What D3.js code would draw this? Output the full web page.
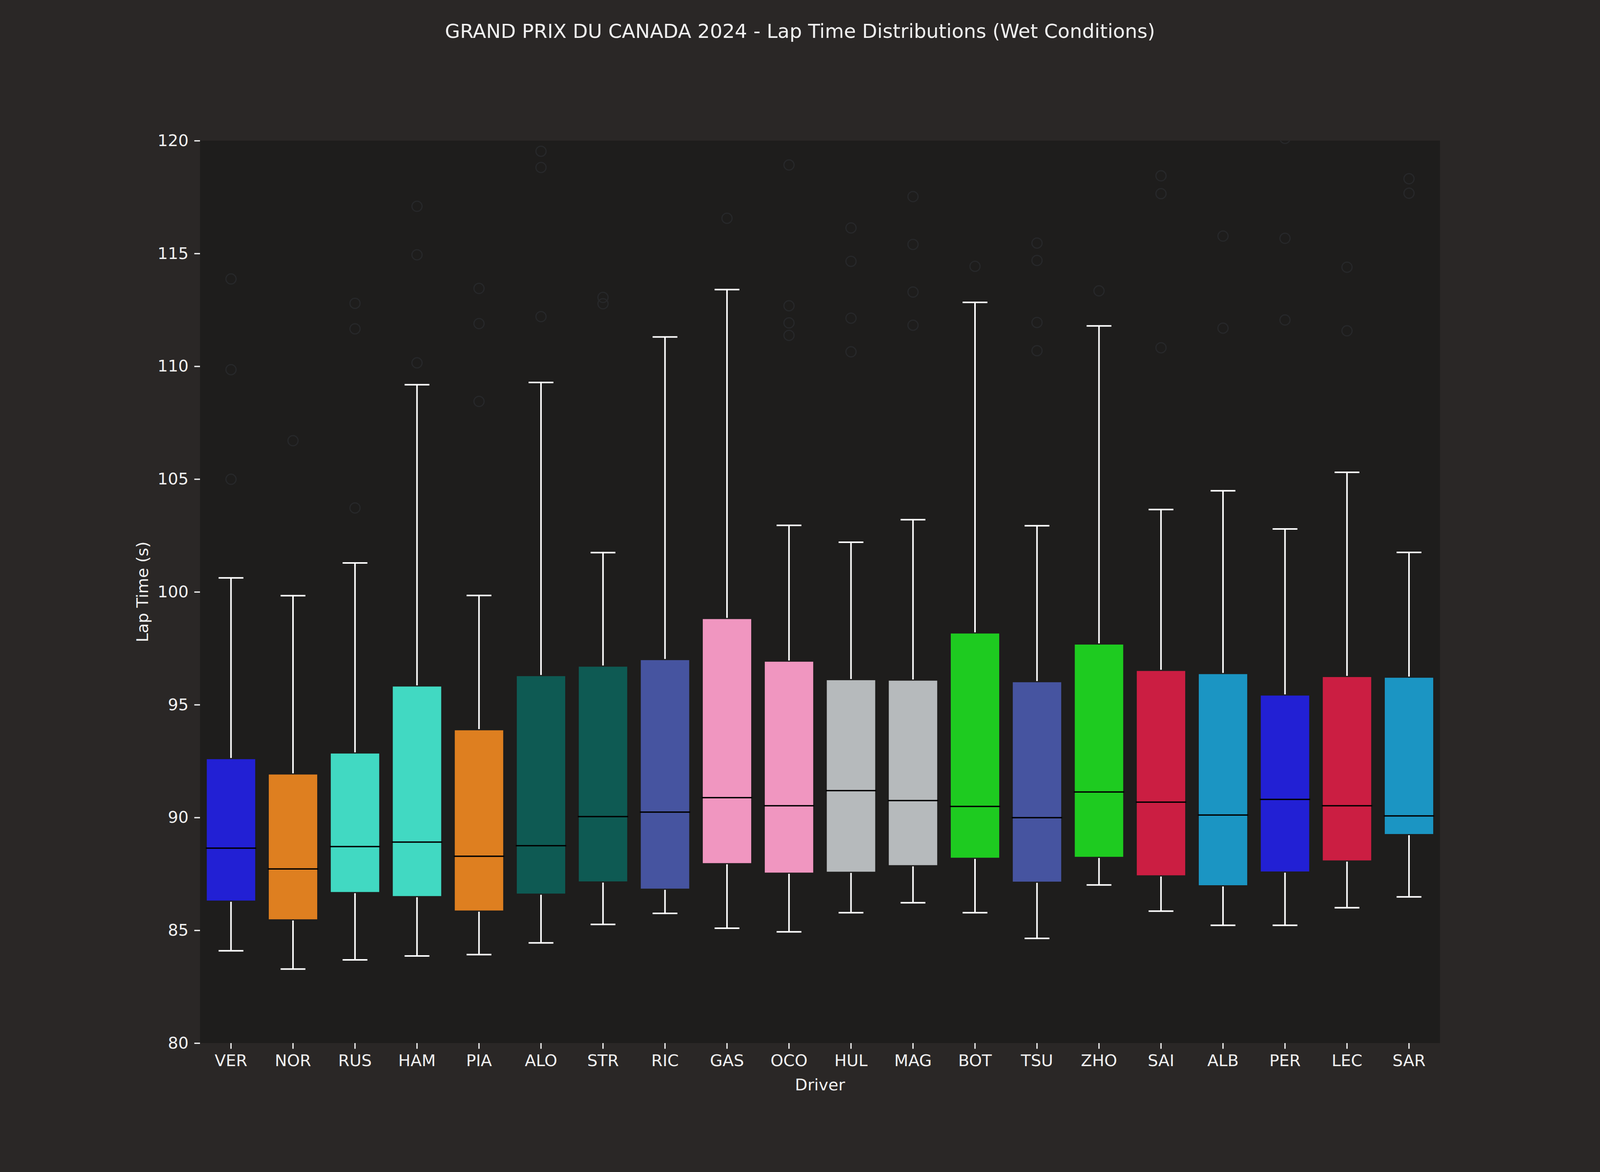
<!DOCTYPE html>
<html>
<head>
<meta charset="utf-8">
<script src="https://cdn.jsdelivr.net/npm/d3@7"></script>
<style>
  html, body { margin: 0; padding: 0; overflow: hidden; background: #2a2726; }
  svg { display: block; }
  text { font-family: "DejaVu Sans", sans-serif; }
</style>
</head>
<body>
<script>
const drivers = ["VER", "NOR", "RUS", "HAM", "PIA", "ALO", "STR", "RIC", "GAS", "OCO",
                 "HUL", "MAG", "BOT", "TSU", "ZHO", "SAI", "ALB", "PER", "LEC", "SAR"];
const colors = ["#2220d4", "#de7f20", "#41d9c2", "#41d9c2", "#de7f20", "#0e5a53", "#0e5a53", "#4654a0", "#f096c0", "#f096c0",
                "#b6babc", "#b6babc", "#1ecb20", "#4654a0", "#1ecb20", "#cb1e42", "#1b95c3", "#2220d4", "#cb1e42", "#1b95c3"];
const whiskerLow = [84.09, 83.28, 83.69, 83.86, 83.92, 84.44, 85.26, 85.75, 85.09, 84.93,
                    85.78, 86.22, 85.78, 84.64, 87.01, 85.85, 85.22, 85.22, 86.00, 86.48];
const q1 = [86.29, 85.46, 86.67, 86.49, 85.85, 86.60, 87.14, 86.82, 87.95, 87.53,
            87.57, 87.86, 88.19, 87.13, 88.23, 87.41, 86.97, 87.58, 88.07, 89.24];
const medians = [88.64, 87.72, 88.71, 88.91, 88.28, 88.75, 90.04, 90.24, 90.88, 90.52,
                 91.19, 90.75, 90.49, 89.99, 91.13, 90.68, 90.11, 90.80, 90.52, 90.07];
const q3 = [92.61, 91.93, 92.86, 95.83, 93.89, 96.29, 96.71, 97.00, 98.82, 96.93,
            96.11, 96.09, 98.18, 96.02, 97.69, 96.52, 96.38, 95.43, 96.25, 96.22];
const whiskerHigh = [100.62, 99.83, 101.28, 109.18, 99.84, 109.28, 101.74, 111.30, 113.40, 102.95,
                     102.20, 103.20, 112.83, 102.93, 111.79, 103.65, 104.48, 102.79, 105.30, 101.75];
const outliers = [
  [113.87, 109.85, 104.99],
  [106.7],
  [112.79, 111.66, 103.72],
  [117.09, 114.94, 110.15],
  [113.45, 111.89, 108.44],
  [119.53, 118.81, 112.2],
  [113.05, 112.77],
  [],
  [116.56],
  [118.92, 112.68, 111.92, 111.37],
  [116.13, 114.65, 112.13, 110.64],
  [117.52, 115.40, 113.29, 111.82],
  [114.43],
  [115.46, 114.69, 111.94, 110.69],
  [113.34],
  [118.44, 117.65, 110.82],
  [115.77, 111.69],
  [120.1, 115.67, 112.05],
  [114.39, 111.57],
  [118.31, 117.67]
];
const yTicks = [80, 85, 90, 95, 100, 105, 110, 115, 120];

// figure fills the window; axes placed by fractions like the original figure
const W = window.innerWidth || 4500;
const H = window.innerHeight || 3000;
const s = H / 3000;
const m = {top: 0.12 * H, bottom: 0.11 * H, left: 0.125 * W, right: 0.1 * W};
const w = W - m.left - m.right;
const h = H - m.top - m.bottom;

const svg = d3.select("body")
    .append("svg")
    .attr("width", W)
    .attr("height", H);

svg.append("rect").attr("width", W).attr("height", H).attr("fill", "#2a2726");

svg.append("defs").append("clipPath").attr("id", "plot-clip")
    .append("rect").attr("width", w).attr("height", h);

const g = svg.append("g").attr("transform", `translate(${m.left}, ${m.top})`);

g.append("rect").attr("width", w).attr("height", h).attr("fill", "#1e1d1c");

const x = d3.scaleBand().domain(drivers).range([0, w]);
const y = d3.scaleLinear().domain([80, 120]).range([h, 0]);

const rows = drivers.map((d, i) => ({
  driver: d, color: colors[i], lo: whiskerLow[i], q1: q1[i], med: medians[i],
  q3: q3[i], hi: whiskerHigh[i], fliers: outliers[i]
}));

const boxW = x.bandwidth() * 0.8;
const capW = boxW / 2;
const lw = 4 * s;

const plot = g.append("g").attr("clip-path", "url(#plot-clip)");

const box = plot.selectAll("g.box")
    .data(rows)
    .enter()
    .append("g")
    .attr("class", "box")
    .attr("transform", d => `translate(${x(d.driver) + x.bandwidth() / 2}, 0)`);

// whiskers
box.append("line")
    .attr("y1", d => y(d.q3)).attr("y2", d => y(d.hi))
    .attr("stroke", "#ffffff").attr("stroke-width", lw);
box.append("line")
    .attr("y1", d => y(d.q1)).attr("y2", d => y(d.lo))
    .attr("stroke", "#ffffff").attr("stroke-width", lw);

// caps
box.append("line")
    .attr("x1", -capW / 2).attr("x2", capW / 2)
    .attr("y1", d => y(d.hi)).attr("y2", d => y(d.hi))
    .attr("stroke", "#ffffff").attr("stroke-width", lw);
box.append("line")
    .attr("x1", -capW / 2).attr("x2", capW / 2)
    .attr("y1", d => y(d.lo)).attr("y2", d => y(d.lo))
    .attr("stroke", "#ffffff").attr("stroke-width", lw);

// boxes
box.append("rect")
    .attr("x", -boxW / 2)
    .attr("width", boxW)
    .attr("y", d => y(d.q3))
    .attr("height", d => y(d.q1) - y(d.q3))
    .attr("fill", d => d.color)
    .attr("stroke", "#1e1d1c")
    .attr("stroke-width", 3 * s);

// medians
box.append("line")
    .attr("x1", -boxW / 2 - 1).attr("x2", boxW / 2 + 1)
    .attr("y1", d => y(d.med)).attr("y2", d => y(d.med))
    .attr("stroke", "#000000").attr("stroke-width", 3.5 * s);

// outliers, barely visible in the original
box.selectAll("circle")
    .data(d => d.fliers)
    .enter()
    .append("circle")
    .attr("cy", v => y(v))
    .attr("r", 13 * s)
    .attr("fill", "none")
    .attr("stroke", "#27282a")
    .attr("stroke-width", 3 * s);

// axes
const tick = 14.6 * s;
const fs = 41.7 * s;
const xAxis = g.append("g")
    .attr("transform", `translate(0, ${h})`)
    .call(d3.axisBottom(x).tickSize(tick).tickPadding(tick));
const yAxis = g.append("g")
    .call(d3.axisLeft(y).tickValues(yTicks).tickSize(tick).tickPadding(tick));

[xAxis, yAxis].forEach(a => {
  a.select(".domain").remove();
  a.selectAll(".tick line").attr("stroke", "#f0f0f0").attr("stroke-width", 3.3 * s);
  a.selectAll(".tick text")
      .attr("fill", "#f0f0f0")
      .attr("font-size", fs)
      .attr("font-family", "DejaVu Sans, sans-serif");
});

// labels
svg.append("text")
    .attr("x", m.left + w / 2).attr("y", m.top + h + 121 * s)
    .attr("text-anchor", "middle")
    .attr("fill", "#f0f0f0").attr("font-size", fs)
    .text("Driver");

svg.append("text")
    .attr("transform", `translate(${m.left - 133 * s}, ${m.top + h / 2}) rotate(-90)`)
    .attr("text-anchor", "middle")
    .attr("fill", "#f0f0f0").attr("font-size", fs)
    .text("Lap Time (s)");

svg.append("text")
    .attr("x", W / 2).attr("y", 0.0323 * H)
    .attr("text-anchor", "middle")
    .attr("fill", "#f0f0f0").attr("font-size", 50 * s)
    .text("GRAND PRIX DU CANADA 2024 - Lap Time Distributions (Wet Conditions)");
</script>
</body>
</html>
